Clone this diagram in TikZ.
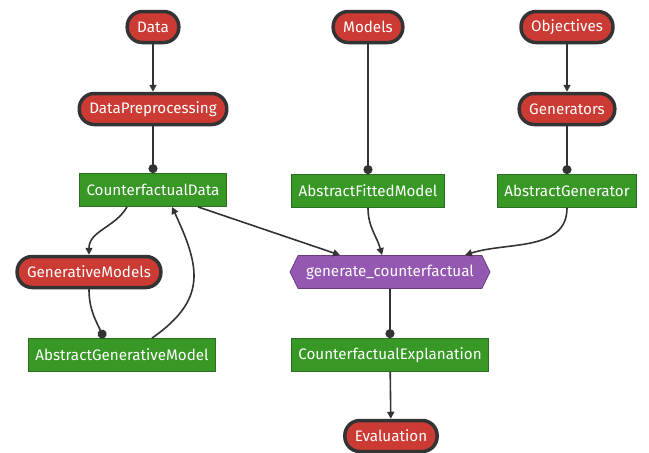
\documentclass[tikz,border=0pt]{standalone}
\usepackage{fontspec}
\setmainfont{Fira Sans}
\usetikzlibrary{positioning,shapes,shapes.symbols,arrows.meta}
\definecolor{termred}{HTML}{CC3B33}
\definecolor{typegreen}{HTML}{389826}
\definecolor{typeedge}{HTML}{2B6E1F}
\definecolor{funcpurple}{HTML}{9558B2}
\definecolor{funcedge}{HTML}{6A3A85}
\definecolor{wire}{HTML}{333333}
\begin{document}
\begin{tikzpicture}[x=1pt,y=-1pt,
		font=\fontsize{15.2}{17}\selectfont,
		module/.style={draw=wire,line width=3.5pt,fill=termred,text=white,rounded corners=15pt,minimum height=31pt,inner xsep=10pt},
		type/.style={draw=typeedge,line width=0.8pt,fill=typegreen,text=white,minimum height=33pt,inner xsep=7pt},
		func/.style={draw=funcedge,line width=0.8pt,fill=funcpurple,text=white,signal,signal to=west and east,signal pointer angle=128,minimum height=33pt,inner xsep=8pt},
		uses/.style={color=wire,line width=1.6pt,-{Triangle[width=7pt,length=7pt]}},
		owns/.style={color=wire,line width=1.6pt,-{Circle[length=9pt]}}]
	\useasboundingbox (0,0) rectangle (649,453);
	% modules
	\node[module] (data) at (153,27) {Data};
	\node[module] (prep) at (153,109) {DataPreprocessing};
	\node[module] (models) at (368,27) {Models};
	\node[module] (obj) at (567,27) {Objectives};
	\node[module] (gens) at (567,109) {Generators};
	\node[module] (genmod) at (89,272) {GenerativeModels};
	\node[module] (eval) at (391,436) {Evaluation};
	% types
	\node[type] (cfdata) at (153,190) {CounterfactualData};
	\node[type] (fitted) at (368,191) {AbstractFittedModel};
	\node[type] (absgen) at (567,191) {AbstractGenerator};
	\node[type] (absgm) at (122,355) {AbstractGenerativeModel};
	\node[type] (cfexp) at (390,355) {CounterfactualExplanation};
	% function
	\node[func] (gencf) at (390,272) {generate\_counterfactual};

	\path[uses]
	(data) edge (prep)
	(obj) edge (gens)
	([xshift=-26pt]cfdata.south) edge[out=-120,in=90] (genmod)
	([xshift=30pt]absgm.north) edge[out=35,in=-65,looseness=1.3] ([xshift=19pt]cfdata.south)
	([xshift=45pt]cfdata.south) edge ([xshift=-50pt]gencf.north)
	(fitted) edge[out=-90,in=105] ([xshift=-8pt]gencf.north)
	(absgen) edge[out=-90,in=18] ([xshift=75pt]gencf.north)
	(cfexp) edge (eval);
	\path[owns]
	(prep) edge (cfdata)
	(models) edge (fitted)
	(gens) edge (absgen)
	(genmod) edge[out=-90,in=115] ([xshift=-18pt]absgm.north)
	(gencf) edge (cfexp);
\end{tikzpicture}
\end{document}
